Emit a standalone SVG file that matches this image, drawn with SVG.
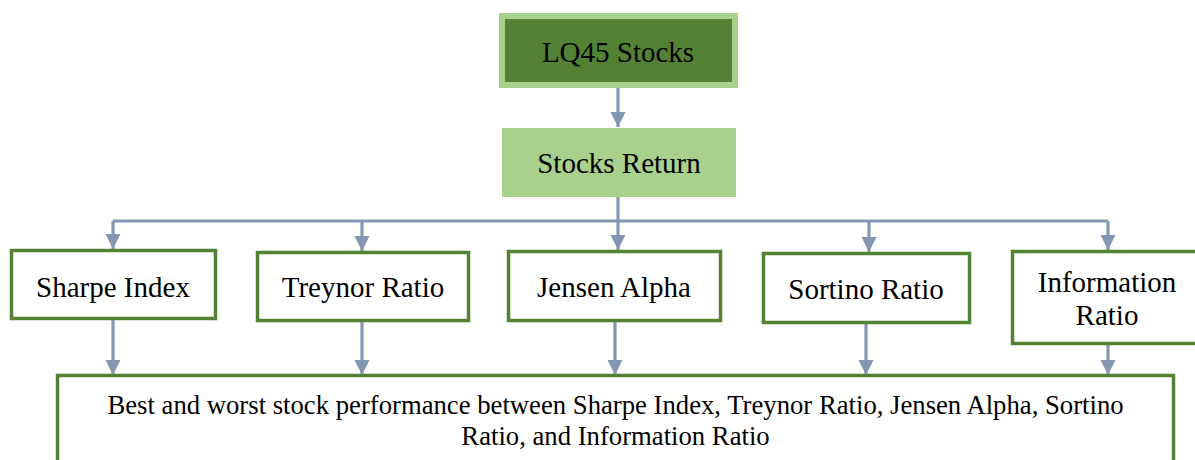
<svg xmlns="http://www.w3.org/2000/svg" width="1195" height="460" viewBox="0 0 1195 460">
<style>
.box{fill:#ffffff;stroke:#548235;stroke-width:3.5}
.t{font-family:"Liberation Serif","Times New Roman",serif;font-size:29px;fill:#000000;text-anchor:middle}
.tb{font-family:"Liberation Serif","Times New Roman",serif;font-size:26.7px;fill:#000000;text-anchor:middle}
.c{fill:none;stroke:#8497b0;stroke-width:3.2}
</style>
<defs>
<marker id="ad" markerUnits="userSpaceOnUse" markerWidth="16" markerHeight="16" viewBox="0 0 16 16" refX="8" refY="15" orient="0">
<path d="M0.5 0 L15.5 0 L8 15 Z" fill="#8497b0"/>
</marker>
</defs>
<g id="connectors">
<path class="c" d="M618 88 V127" marker-end="url(#ad)"/>
<path class="c" d="M618 197 V221"/>
<path class="c" d="M113 221 H1108"/>
<path class="c" d="M113 221 V249" marker-end="url(#ad)"/>
<path class="c" d="M362 221 V251" marker-end="url(#ad)"/>
<path class="c" d="M618 221 V250" marker-end="url(#ad)"/>
<path class="c" d="M869 221 V252" marker-end="url(#ad)"/>
<path class="c" d="M1108 221 V250" marker-end="url(#ad)"/>
<path class="c" d="M113 320 V375" marker-end="url(#ad)"/>
<path class="c" d="M362 322 V375" marker-end="url(#ad)"/>
<path class="c" d="M615 322 V375" marker-end="url(#ad)"/>
<path class="c" d="M866 324 V375" marker-end="url(#ad)"/>
<path class="c" d="M1108 345 V375" marker-end="url(#ad)"/>
</g>
<g id="lq45">
<rect x="502" y="16" width="233" height="69" fill="#548235" stroke="#a9d18e" stroke-width="6"/>
<text class="t" x="618" y="62">LQ45 Stocks</text>
</g>
<g id="stocks-return">
<rect x="502" y="128" width="234" height="69" fill="#a9d18e"/>
<text class="t" x="619" y="173">Stocks Return</text>
</g>
<g id="sharpe">
<rect class="box" x="11.5" y="250.5" width="204" height="68"/>
<text class="t" x="113" y="297">Sharpe Index</text>
</g>
<g id="treynor">
<rect class="box" x="257.5" y="252.5" width="211" height="68"/>
<text class="t" x="363" y="297">Treynor Ratio</text>
</g>
<g id="jensen">
<rect class="box" x="508.5" y="251.5" width="212" height="69"/>
<text class="t" x="614" y="297">Jensen Alpha</text>
</g>
<g id="sortino">
<rect class="box" x="763.5" y="253.5" width="206" height="69"/>
<text class="t" x="866" y="299">Sortino Ratio</text>
</g>
<g id="information">
<rect class="box" x="1012.5" y="251.5" width="190" height="92"/>
<text class="t" x="1107" y="292">Information</text>
<text class="t" x="1107" y="325">Ratio</text>
</g>
<g id="result">
<rect class="box" x="57.5" y="375.5" width="1116" height="100" stroke-width="3"/>
<text class="tb" x="615.5" y="414">Best and worst stock performance between Sharpe Index, Treynor Ratio, Jensen Alpha, Sortino</text>
<text class="tb" x="615.5" y="445">Ratio, and Information Ratio</text>
</g>
</svg>
